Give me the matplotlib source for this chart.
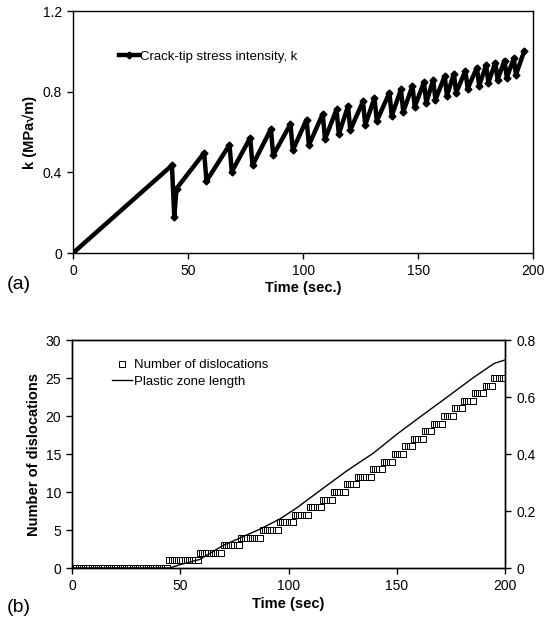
"""
Crack-tip stress intensity and dislocation emission vs time
"""
import matplotlib
matplotlib.use("Agg")
import matplotlib.pyplot as plt
import numpy as np

plt.rcParams['font.family'] = ['Liberation Sans', 'DejaVu Sans']
plt.rcParams['font.size'] = 9.5

# (a) k vs time: vertices of the sawtooth
k_time = [0, 43, 44, 45, 57, 58, 68, 69, 77, 78, 86, 87, 94.5, 95.5, 101.5, 102.5,
          108.5, 109.5, 114.5, 115.5, 119.5, 120.5, 126, 127, 131, 132, 137.5, 138.5,
          142.5, 143.5, 147.5, 148.5, 152.5, 153.5, 156.5, 157.5, 161.5, 162.5,
          165.5, 166.5, 170.5, 171.5, 175.5, 176.5, 179.5, 180.5, 183.5, 184.5,
          187.5, 188.5, 191.5, 192.5, 196]
k_value = [0, 0.435, 0.18, 0.32, 0.497, 0.357, 0.537, 0.403, 0.572, 0.435, 0.615, 0.485,
           0.640, 0.51, 0.662, 0.535, 0.690, 0.565, 0.712, 0.59, 0.728, 0.61, 0.752, 0.635,
           0.770, 0.655, 0.795, 0.68, 0.812, 0.70, 0.830, 0.725, 0.848, 0.745, 0.860, 0.76,
           0.878, 0.78, 0.890, 0.795, 0.905, 0.815, 0.920, 0.83, 0.932, 0.845, 0.945, 0.86,
           0.955, 0.87, 0.965, 0.885, 1.0]

# (b) dislocation emission times (count steps up by one at each)
emission_times = [45, 58.5, 69.5, 78, 87.5, 95.5, 102.5, 109.5, 115.5, 120.5, 127, 132,
                  138.5, 143.5, 148.5, 153.5, 157.5, 162.5, 166.5, 171.5, 176.5, 180.5,
                  185.5, 190.5, 194.5]
sample_times = np.arange(0, 201, 1)
n_disloc = np.searchsorted(emission_times, sample_times, side='right')

pz_time = [0, 45, 50, 59, 70, 79, 87, 96, 104, 116, 127.5, 139, 150.5, 162, 173.5, 185, 195, 200]
pz_length = [0, 0, 0.012, 0.03, 0.08, 0.11, 0.137, 0.172, 0.212, 0.28, 0.344, 0.402,
             0.472, 0.537, 0.601, 0.666, 0.718, 0.73]

fig = plt.figure(figsize=(5.46, 6.18), dpi=100)

ax1 = fig.add_axes([0.1337, 0.5906, 0.843, 0.3914])
ax1.plot(k_time, k_value, color='black', lw=3.2, marker='D', ms=3.5,
         label='Crack-tip stress intensity, k')
ax1.set_xlim(0, 200)
ax1.set_ylim(0, 1.2)
ax1.set_xticks([0, 50, 100, 150, 200])
ax1.set_yticks([0, 0.4, 0.8, 1.2])
ax1.set_yticklabels(['0', '0.4', '0.8', '1.2'])
ax1.tick_params(direction='out', length=4, width=1, pad=4, labelsize=10)
for s in ax1.spines.values():
    s.set_linewidth(1)
ax1.set_xlabel('Time (sec.)', fontweight='bold', fontsize=10.5, labelpad=2)
ax1.set_ylabel('k (MPa√m)', fontweight='bold', fontsize=10.5, labelpad=4)
ax1.legend(loc='upper left', bbox_to_anchor=(0.088, 0.86), frameon=False,
           handlelength=1.5, handletextpad=0.1, borderaxespad=0)
fig.text(0.012, 0.532, '(a)', fontsize=14)

ax2 = fig.add_axes([0.1319, 0.0809, 0.793, 0.3689])
ax2.plot(sample_times, n_disloc, ls='none', marker='s', ms=4, mfc='white',
         mec='black', mew=0.7, label='Number of dislocations')
ax2.set_xlim(0, 200)
ax2.set_ylim(0, 30)
ax2.set_xticks([0, 50, 100, 150, 200])
ax2.set_yticks([0, 5, 10, 15, 20, 25, 30])
ax2.tick_params(direction='out', length=4, width=1, pad=4, labelsize=10)
ax2.set_xlabel('Time (sec)', fontweight='bold', fontsize=10.5, labelpad=3)
ax2.set_ylabel('Number of dislocations', fontweight='bold', fontsize=10.5, labelpad=3)

ax3 = ax2.twinx()
ax3.plot(pz_time, pz_length, color='black', lw=1, label='Plastic zone length')
ax3.set_ylim(0, 0.8)
ax3.set_yticks([0, 0.2, 0.4, 0.6, 0.8])
ax3.set_yticklabels(['0', '0.2', '0.4', '0.6', '0.8'])
ax3.tick_params(direction='out', length=4, width=1, pad=4, labelsize=10)
for a in (ax2, ax3):
    for s in a.spines.values():
        s.set_linewidth(1)

h1, l1 = ax2.get_legend_handles_labels()
h2, l2 = ax3.get_legend_handles_labels()
ax3.legend(h1 + h2, l1 + l2, loc='upper left', bbox_to_anchor=(0.08, 0.94),
           frameon=False, handlelength=1.5, handletextpad=0.2, borderaxespad=0,
           labelspacing=0.35)
fig.text(0.012, 0.01, '(b)', fontsize=14)

fig.savefig('out.png', dpi=100)
